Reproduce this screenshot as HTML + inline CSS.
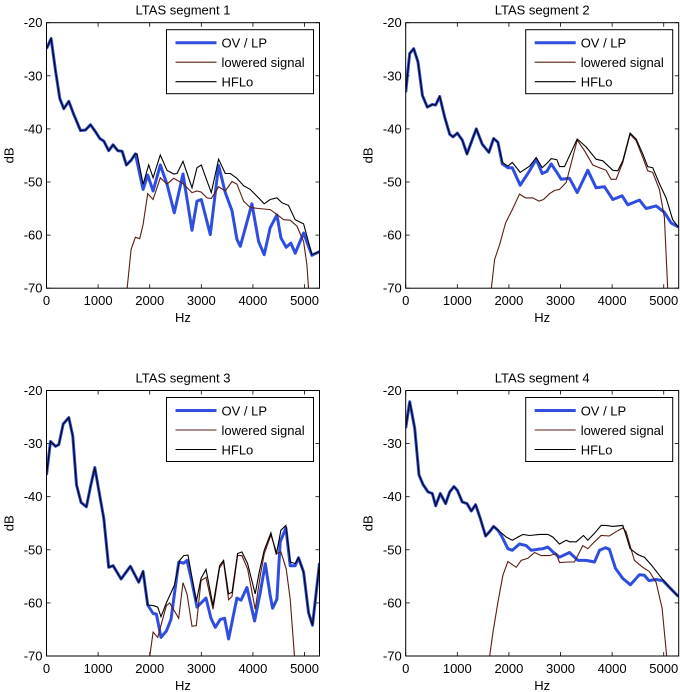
<!DOCTYPE html>
<html><head><meta charset="utf-8">
<style>
html,body{margin:0;padding:0;background:#fff;}
svg{display:block;font-family:"Liberation Sans",sans-serif;}
</style></head>
<body>
<svg id="fig" width="680" height="692" viewBox="0 0 680 692"></svg>
<script>
// ---- Data (Hz, dB) ----
const xTicks = [0,1000,2000,3000,4000,5000];
const yTicks = [-20,-30,-40,-50,-60,-70];
const titles = ["LTAS segment 1","LTAS segment 2","LTAS segment 3","LTAS segment 4"];
const legendLabels = ["OV / LP","lowered signal","HFLo"];

const s1OvHz = [0,90,174,258,335,432,529,658,755,852,948,1032,1110,1206,1290,1381,1465,1548,1639,1723,1871,1961,2065,2206,2335,2477,2645,2819,2916,3000,3174,3335,3465,3594,3690,3755,3897,3981,4110,4219,4335,4465,4542,4645,4735,4819,4981,5142,5290];
const s1OvDb = [-24.9,-23.0,-29.0,-34.3,-36.2,-34.8,-37.3,-40.3,-40.2,-39.2,-40.5,-41.8,-42.3,-44.1,-43.0,-44.1,-44.2,-46.8,-45.9,-44.7,-51.4,-48.7,-51.7,-46.8,-50.4,-55.8,-48.5,-59.1,-53.6,-53.3,-59.9,-46.9,-52.0,-55.4,-60.8,-62.1,-57.1,-54.1,-61.2,-63.7,-58.6,-56.2,-60.5,-62.3,-61.5,-63.4,-59.6,-63.8,-63.1];
const s1HfHz = [1755,1871,1981,2065,2206,2335,2465,2529,2645,2819,2916,3000,3110,3194,3335,3465,3561,3690,3819,3948,4110,4219,4335,4465,4561,4690,4819,4981,5142,5290];
const s1HfDb = [-44.7,-50.4,-46.8,-49.2,-44.9,-47.8,-48.5,-48.4,-46.1,-51.1,-47.3,-46.8,-49.8,-52.0,-45.7,-48.4,-48.4,-49.3,-50.7,-51.4,-53.0,-54.1,-53.3,-53.0,-53.9,-54.4,-57.1,-57.9,-63.7,-63.1];
const s1LoHz = [1561,1639,1723,1806,1871,1961,2065,2206,2335,2465,2645,2819,2916,3000,3110,3194,3335,3465,3594,3690,3819,3948,4110,4335,4465,4594,4723,4852,4981,5045,5077];
const s1LoDb = [-70.1,-62.7,-60.4,-60.7,-58.0,-52.2,-53.3,-49.2,-50.4,-49.3,-50.3,-52.0,-51.7,-51.9,-53.0,-53.1,-50.9,-51.7,-49.9,-50.4,-53.6,-54.8,-55.0,-55.2,-56.1,-57.1,-57.2,-58.3,-61.2,-65.6,-70.0];

const s2OvHz = [0,77,155,239,323,419,516,581,658,755,852,916,1000,1097,1187,1271,1368,1484,1613,1703,1787,1871,1981,2065,2219,2400,2529,2645,2736,2819,2929,3013,3174,3323,3529,3690,3852,4013,4194,4303,4529,4658,4852,5013,5142,5284];
const s2OvDb = [-33.1,-25.8,-24.9,-27.4,-33.7,-35.9,-35.4,-35.5,-33.9,-37.8,-41.0,-41.5,-40.8,-42.1,-44.7,-42.5,-40.0,-42.9,-44.4,-41.8,-42.5,-46.6,-47.3,-47.3,-50.6,-47.9,-45.7,-48.4,-48.0,-46.6,-48.2,-49.5,-49.3,-52.0,-47.8,-51.1,-50.9,-53.3,-52.6,-54.3,-53.4,-55.0,-54.5,-55.7,-57.7,-58.5];
const s2HfHz = [1871,1981,2065,2219,2400,2529,2645,2736,2819,2929,2981,3077,3323,3497,3690,3819,4013,4110,4206,4348,4465,4594,4690,4787,4916,5045,5174,5284];
const s2HfDb = [-46.3,-47.0,-46.3,-48.2,-47.0,-45.4,-47.3,-46.5,-45.6,-45.8,-47.1,-47.1,-41.9,-43.4,-45.7,-46.0,-47.8,-47.9,-46.0,-40.8,-41.9,-44.7,-47.1,-47.3,-50.3,-53.0,-57.1,-58.5];
const s2LoHz = [1658,1723,1819,1935,2065,2206,2323,2465,2581,2671,2787,2884,2981,3110,3323,3465,3626,3755,3884,3981,4077,4206,4348,4465,4594,4690,4787,4916,5013,5077];
const s2LoDb = [-70.1,-64.6,-61.8,-57.7,-55.2,-52.3,-53.0,-53.0,-53.6,-53.3,-52.2,-51.6,-51.4,-50.1,-42.1,-44.1,-46.8,-47.3,-47.8,-49.5,-49.5,-46.3,-41.0,-42.2,-45.4,-47.9,-48.2,-51.4,-56.7,-70.1];

const s3OvHz = [0,77,174,239,323,432,510,581,671,774,852,935,1013,1110,1206,1290,1445,1626,1787,1871,1961,2065,2129,2219,2323,2413,2561,2658,2723,2819,2916,3090,3187,3271,3368,3452,3529,3690,3768,3884,4032,4142,4239,4335,4381,4465,4529,4639,4723,4819,4884,4981,5077,5155,5290];
const s3OvDb = [-35.9,-29.6,-30.5,-30.2,-26.3,-25.1,-28.6,-37.8,-41.1,-41.9,-38.1,-34.5,-38.8,-44.1,-53.3,-53.0,-55.5,-53.1,-56.1,-54.1,-60.4,-62.0,-62.1,-66.5,-65.3,-63.1,-52.3,-52.5,-52.0,-56.1,-60.8,-59.1,-62.9,-64.6,-63.1,-62.9,-66.8,-59.1,-59.5,-57.1,-63.4,-58.0,-52.6,-58.6,-61.0,-59.3,-48.5,-45.9,-53.0,-53.0,-51.5,-54.2,-61.8,-64.2,-52.5];
const s3HfHz = [1961,2065,2155,2219,2323,2477,2581,2658,2742,2903,2994,3090,3226,3355,3432,3529,3594,3703,3787,3897,4045,4123,4219,4348,4452,4542,4639,4723,4819,4884,4981,5077,5155,5290];
const s3HfDb = [-60.4,-60.5,-60.8,-62.6,-60.0,-56.7,-52.0,-51.1,-51.0,-59.8,-55.4,-53.7,-60.5,-53.0,-52.0,-58.3,-58.0,-50.7,-50.4,-52.6,-58.3,-54.1,-50.1,-46.8,-50.9,-46.3,-45.4,-52.3,-52.6,-51.5,-54.2,-61.8,-64.2,-52.5];
const s3LoHz = [2000,2065,2155,2323,2387,2561,2645,2723,2819,2903,2994,3090,3226,3355,3432,3529,3594,3703,3787,3897,4045,4142,4219,4348,4465,4542,4645,4723,4806];
const s3LoDb = [-70.1,-65.5,-66.5,-60.5,-60.0,-62.9,-56.2,-58.3,-64.4,-64.3,-55.8,-55.2,-61.2,-53.4,-52.3,-59.4,-58.8,-51.1,-51.1,-53.6,-61.2,-54.8,-50.8,-47.2,-50.7,-50.4,-53.6,-59.3,-70.1];

const s4OvHz = [0,77,174,258,335,432,516,581,671,774,852,935,1000,1097,1187,1271,1355,1445,1548,1626,1703,1787,1852,1981,2065,2206,2335,2432,2561,2658,2755,2852,2981,3174,3336,3497,3658,3755,3871,3948,4065,4206,4355,4529,4626,4710,4852,4981,5142,5284];
const s4OvDb = [-27.1,-22.1,-27.1,-35.9,-37.7,-39.1,-39.4,-41.7,-39.4,-41.3,-39.1,-38.1,-38.8,-41.0,-41.3,-42.7,-41.5,-44.1,-47.4,-46.6,-45.6,-46.3,-47.3,-49.8,-50.1,-48.9,-49.2,-50.1,-49.9,-49.8,-49.5,-50.4,-51.4,-50.5,-52.0,-52.0,-52.3,-50.1,-49.6,-49.9,-53.5,-55.4,-56.6,-54.7,-54.8,-55.8,-55.6,-55.8,-57.4,-58.8];
const s4HfHz = [1948,2065,2174,2271,2400,2594,2755,2852,2981,3110,3174,3303,3445,3529,3658,3787,3884,4013,4206,4271,4348,4497,4626,4755,4916,5110,5284];
const s4HfDb = [-47.6,-48.2,-47.6,-47.1,-47.3,-47.1,-47.1,-47.6,-48.9,-48.2,-48.5,-48.5,-47.3,-48.2,-46.9,-45.4,-45.4,-45.6,-45.4,-47.3,-49.8,-50.9,-51.4,-52.8,-54.8,-57.1,-58.8];
const s4LoHz = [1626,1690,1787,1884,1981,2142,2239,2368,2497,2626,2787,2916,2981,3142,3271,3432,3529,3658,3787,3948,4077,4206,4271,4348,4432,4594,4723,4852,4968,5058];
const s4LoDb = [-70.1,-65.6,-59.9,-54.8,-52.2,-53.3,-52.0,-51.6,-50.5,-51.1,-51.1,-50.7,-52.4,-52.3,-52.3,-49.2,-49.8,-48.5,-47.3,-47.4,-46.6,-45.9,-46.6,-49.2,-52.0,-53.3,-54.1,-56.1,-61.0,-70.1];

const panels = [
  {ovHz:s1OvHz, ovDb:s1OvDb, shared:20, hfHz:s1HfHz, hfDb:s1HfDb, loHz:s1LoHz, loDb:s1LoDb},
  {ovHz:s2OvHz, ovDb:s2OvDb, shared:21, hfHz:s2HfHz, hfDb:s2HfDb, loHz:s2LoHz, loDb:s2LoDb},
  {ovHz:s3OvHz, ovDb:s3OvDb, shared:20, hfHz:s3HfHz, hfDb:s3HfDb, loHz:s3LoHz, loDb:s3LoDb},
  {ovHz:s4OvHz, ovDb:s4OvDb, shared:21, hfHz:s4HfHz, hfDb:s4HfDb, loHz:s4LoHz, loDb:s4LoDb}
];

// ---- Layout ----
const NS = "http://www.w3.org/2000/svg";
const svg = document.getElementById("fig");
const X0 = [46.5, 405.7, 46.5, 405.7];
const Y0 = [22.7, 22.7, 390.5, 390.5];
const W = 273, H = 265.5;
const XMAX = 5290, YMIN = -70, YMAX = -20;

function mk(tag, attrs, parent) {
  const e = document.createElementNS(NS, tag);
  for (const k in attrs) e.setAttribute(k, attrs[k]);
  (parent || svg).appendChild(e);
  return e;
}

panels.forEach((p, i) => {
  const x0 = X0[i], y0 = Y0[i];
  const sx = v => x0 + v / XMAX * W;
  const sy = v => y0 + (YMAX - v) / (YMAX - YMIN) * H;
  const g = mk("g", {});
  
  

  const clipId = "clip" + i;
  const cp = mk("clipPath", {id: clipId}, g);
  mk("rect", {x: x0, y: y0, width: W, height: H}, cp);

  const t = mk("text", {x: x0 + W / 2, y: y0 - 8, "text-anchor": "middle", "font-size": 13}, g);
  t.textContent = titles[i];
  
  

  xTicks.forEach(v => {
    const x = sx(v);
    mk("line", {x1: x, y1: y0 + H, x2: x, y2: y0 + H - 4, stroke: "#000", "stroke-width": 0.8}, g);
    mk("line", {x1: x, y1: y0, x2: x, y2: y0 + 4, stroke: "#000", "stroke-width": 0.8}, g);
    const lb = mk("text", {x: x, y: y0 + H + 17, "text-anchor": "middle", "font-size": 13}, g);
    lb.textContent = v;
    
    
  });
  yTicks.forEach(v => {
    const y = sy(v);
    mk("line", {x1: x0, y1: y, x2: x0 + 4, y2: y, stroke: "#000", "stroke-width": 0.8}, g);
    mk("line", {x1: x0 + W, y1: y, x2: x0 + W - 4, y2: y, stroke: "#000", "stroke-width": 0.8}, g);
    const lb = mk("text", {x: x0 - 4, y: y + 4.5, "text-anchor": "end", "font-size": 13}, g);
    lb.textContent = v;
    
    
  });
  const xl = mk("text", {x: x0 + W / 2, y: y0 + H + 34, "text-anchor": "middle", "font-size": 13}, g);
  xl.textContent = "Hz";
  
  
  const yl = mk("text", {x: 0, y: 0, "text-anchor": "middle", "font-size": 13, transform: `translate(${x0 - 33},${y0 + H / 2}) rotate(-90)`}, g);
  yl.textContent = "dB";
  
  

  const path = (hz, db) => hz.map((h, k) => (k ? "L" : "M") + sx(h).toFixed(1) + "," + sy(db[k]).toFixed(1)).join("");
  const hfHzAll = p.ovHz.slice(0, p.shared).concat(p.hfHz);
  const hfDbAll = p.ovDb.slice(0, p.shared).concat(p.hfDb);

  const ov = mk("path", {d: path(p.ovHz, p.ovDb), fill: "none", stroke: "#2f4ee0", "stroke-width": 3, "stroke-linejoin": "round", "clip-path": `url(#${clipId})`}, g);
  
  
  const lo = mk("path", {d: path(p.loHz, p.loDb), fill: "none", stroke: "#5a1c12", "stroke-width": 1.1, "clip-path": `url(#${clipId})`}, g);
  
  
  const hf = mk("path", {d: path(hfHzAll, hfDbAll), fill: "none", stroke: "#000", "stroke-width": 1.1, "clip-path": `url(#${clipId})`}, g);
  
  

  const box = mk("rect", {x: x0, y: y0, width: W, height: H, fill: "none", stroke: "#000", "stroke-width": 1}, g);
  
  

  const lx = x0 + W - 153, ly = y0 + 7;
  const lg = mk("g", {}, g);
  
  
  mk("rect", {x: lx, y: ly, width: 147, height: 64, fill: "#fff", stroke: "#000", "stroke-width": 1}, lg);
  const styles = [["#2f4ee0", 3], ["#5a1c12", 1.1], ["#000", 1.1]];
  legendLabels.forEach((lab, k) => {
    const yy = ly + 13 + k * 19.5;
    const e = mk("g", {}, lg);
    
    
    mk("line", {x1: lx + 9, y1: yy, x2: lx + 50, y2: yy, stroke: styles[k][0], "stroke-width": styles[k][1]}, e);
    const tt = mk("text", {x: lx + 55, y: yy + 5, "font-size": 13}, e);
    tt.textContent = lab;
  });
});
</script>
</body></html>
